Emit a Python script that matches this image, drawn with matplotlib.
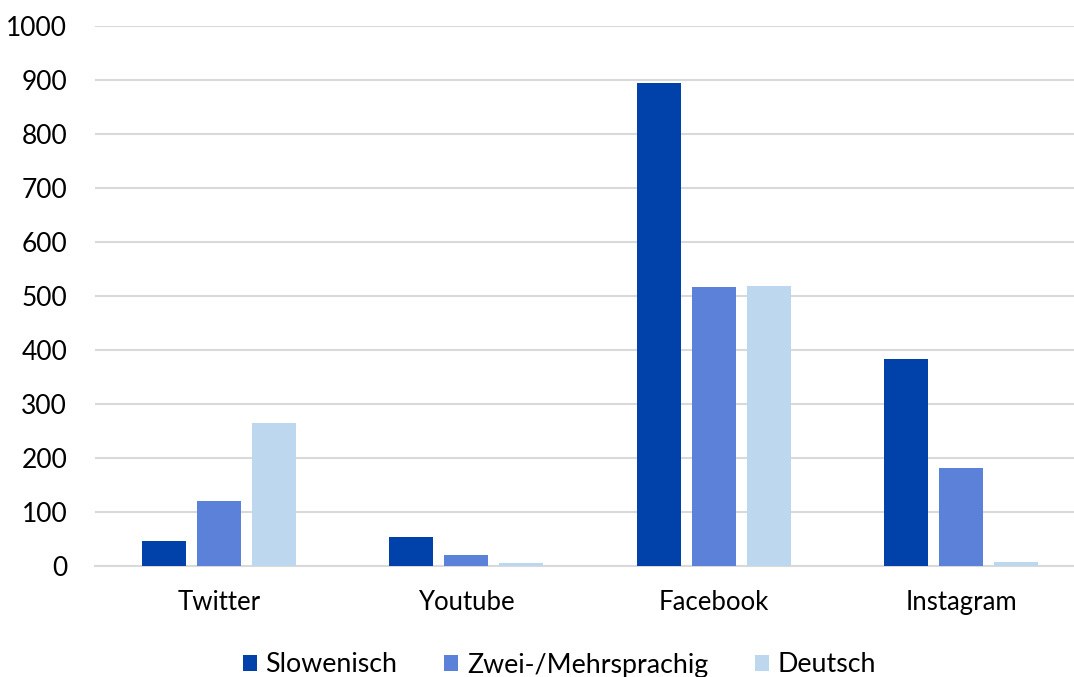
import numpy as np
import matplotlib
matplotlib.use("Agg")
import matplotlib.pyplot as plt

plattformen = ["Twitter", "Youtube", "Facebook", "Instagram"]
slowenisch = [47, 54, 894, 383]
zwei_mehrsprachig = [120, 20, 517, 181]
deutsch = [265, 6, 519, 7]

serien = ["Slowenisch", "Zwei-/Mehrsprachig", "Deutsch"]
farben = ["#0041AA", "#5B82D8", "#BDD7EE"]

plt.rcParams["font.family"] = ["Lato", "DejaVu Sans"]

fig = plt.figure(figsize=(10.74, 6.77), dpi=100)
ax = fig.add_axes([95 / 1074, 111 / 677, 990 / 1074, 540 / 677])

x = np.arange(len(plattformen))
breite = 0.178
schritt = 0.222
for i, (werte, name, farbe) in enumerate(zip([slowenisch, zwei_mehrsprachig, deutsch], serien, farben)):
    ax.bar(x + (i - 1) * schritt, werte, width=breite, color=farbe, label=name, zorder=3)

ax.set_xlim(-0.5, len(plattformen) - 0.5)
ax.set_ylim(0, 1000)
ax.set_yticks(range(0, 1001, 100))
ax.set_xticks(x)
ax.set_xticklabels(plattformen)
ax.grid(axis="y", color="#d9d9d9", linewidth=1.5, zorder=0)
ax.set_axisbelow(True)
for s in ["top", "right", "left"]:
    ax.spines[s].set_visible(False)
ax.spines["bottom"].set_color("#d9d9d9")
ax.spines["bottom"].set_linewidth(1.5)
ax.tick_params(axis="y", length=0, pad=20, labelsize=19, colors="black")
ax.tick_params(axis="x", length=0, pad=17, labelsize=18.5)

fig.legend(loc="center", bbox_to_anchor=(0.521, 12 / 677), ncol=3, frameon=False,
           fontsize=19.3, handlelength=0.52, handleheight=0.52, handletextpad=0.32,
           columnspacing=1.75, borderpad=0)

fig.savefig("out.png", dpi=100)
